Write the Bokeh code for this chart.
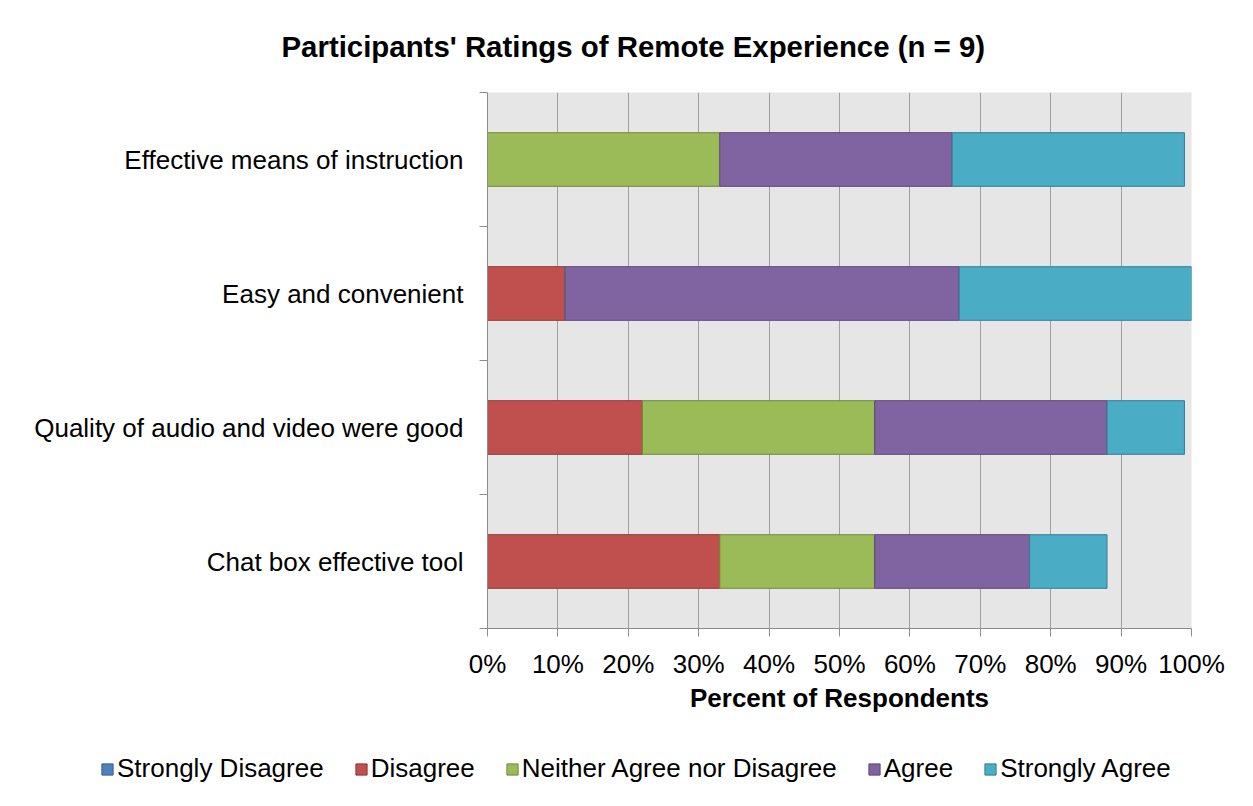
from bokeh.plotting import figure
from bokeh.layouts import column, row
from bokeh.models import (ColumnDataSource, Range1d, FixedTicker, Legend, LegendItem, Title)
from bokeh.embed import file_html
from bokeh.resources import INLINE

# ---- data ----
categories = ["Chat box effective tool",
              "Quality of audio and video were good",
              "Easy and convenient",
              "Effective means of instruction"]
series_names = ["Strongly Disagree", "Disagree", "Neither Agree nor Disagree", "Agree", "Strongly Agree"]
strongly_disagree = [0, 0, 0, 0]
disagree = [33, 22, 11, 0]
neither = [22, 33, 0, 33]
agree = [22, 33, 56, 33]
strongly_agree = [11, 11, 33, 33]
x_ticks = [0, 10, 20, 30, 40, 50, 60, 70, 80, 90, 100]
x_tick_labels = [f"{t}%" for t in x_ticks]

fills = ["#4f81bd", "#c0504d", "#9bbb59", "#8064a2", "#4bacc6"]
lines = ["#385d8a", "#8c3836", "#71893f", "#5c4776", "#357d91"]

ypos = [i + 0.5 for i in range(len(categories))]
keys = ["sd", "d", "n", "a", "sa"]
source = ColumnDataSource(dict(y=ypos, sd=strongly_disagree, d=disagree, n=neither,
                               a=agree, sa=strongly_agree))

FONT = "Liberation Sans"

p = figure(width=1237, height=735, output_backend="svg", toolbar_location=None,
           x_range=Range1d(0, 100), y_range=Range1d(0, len(categories)),
           min_border_left=487, min_border_right=46, min_border_top=92, min_border_bottom=107)

p.background_fill_color = "#e6e6e6"
p.outline_line_color = None

renderers = p.hbar_stack(keys, y="y", height=0.4, source=source,
                         fill_color=fills, line_color=lines, line_width=1)

# x axis
p.xaxis.ticker = FixedTicker(ticks=x_ticks)
p.xaxis.major_label_overrides = {t: l for t, l in zip(x_ticks, x_tick_labels)}
p.xaxis.axis_label = "Percent of Respondents"
p.xaxis.axis_label_text_font = FONT
p.xaxis.axis_label_text_font_style = "bold"
p.xaxis.axis_label_text_font_size = "26px"
p.xaxis.axis_label_text_color = "black"
p.xaxis.axis_label_standoff = 1
p.xaxis.major_label_text_font = FONT
p.xaxis.major_label_text_font_size = "26px"
p.xaxis.major_label_text_color = "black"
p.xaxis.major_label_standoff = 12
p.xaxis.major_tick_out = 8
p.xaxis.major_tick_in = 0
p.xaxis.minor_tick_line_color = None
p.xaxis.axis_line_color = "#8c8c8c"
p.xaxis.major_tick_line_color = "#8c8c8c"

# y axis
p.yaxis.ticker = FixedTicker(ticks=ypos, minor_ticks=list(range(len(categories) + 1)))
p.yaxis.major_label_overrides = {y: c for y, c in zip(ypos, categories)}
p.yaxis.major_label_text_font = FONT
p.yaxis.major_label_text_font_size = "26px"
p.yaxis.major_label_text_color = "black"
p.yaxis.major_label_standoff = 16
p.yaxis.major_tick_out = 0
p.yaxis.major_tick_in = 0
p.yaxis.minor_tick_out = 8
p.yaxis.minor_tick_in = 0
p.yaxis.axis_line_color = "#8c8c8c"
p.yaxis.minor_tick_line_color = "#8c8c8c"
p.yaxis.major_tick_line_color = None

# grid
p.xgrid.ticker = FixedTicker(ticks=x_ticks)
p.xgrid.grid_line_color = "#a0a0a0"
p.xgrid.grid_line_width = 1
p.ygrid.grid_line_color = None

# title
title = Title(text="Participants' Ratings of Remote Experience (n = 9)",
              text_font=FONT, text_font_style="bold", text_font_size="29.4px",
              text_color="black", align="left", offset=-206,
              vertical_align="middle", standoff=57)
p.add_layout(title, "above")

# legend strip (separate figure so the legend is not clipped by the plot frame)
lg = figure(width=1237, height=55, output_backend="svg", toolbar_location=None,
            x_range=Range1d(0, 100), y_range=Range1d(100, 101),
            min_border_left=0, min_border_right=0, min_border_top=0, min_border_bottom=0,
            x_axis_location=None, y_axis_location=None)
lg.grid.visible = False
lg.outline_line_color = None
swatches = lg.hbar_stack(keys, y="y", height=0.4, source=source,
                         fill_color=fills, line_color=lines, line_width=1)
items = [LegendItem(label=n, renderers=[r]) for n, r in zip(series_names, swatches)]
legend = Legend(items=items, orientation="horizontal", location=(100, 6), ncols=5, nrows=1,
                glyph_width=14, glyph_height=14, label_standoff=3, spacing=30,
                padding=0, margin=0, border_line_color=None, background_fill_alpha=0,
                label_text_font=FONT, label_text_font_size="26px", label_text_color="black")
lg.add_layout(legend, "center")

layout = column(p, row(lg, spacing=0), spacing=0)
open("out.html", "w").write(file_html(layout, INLINE))
